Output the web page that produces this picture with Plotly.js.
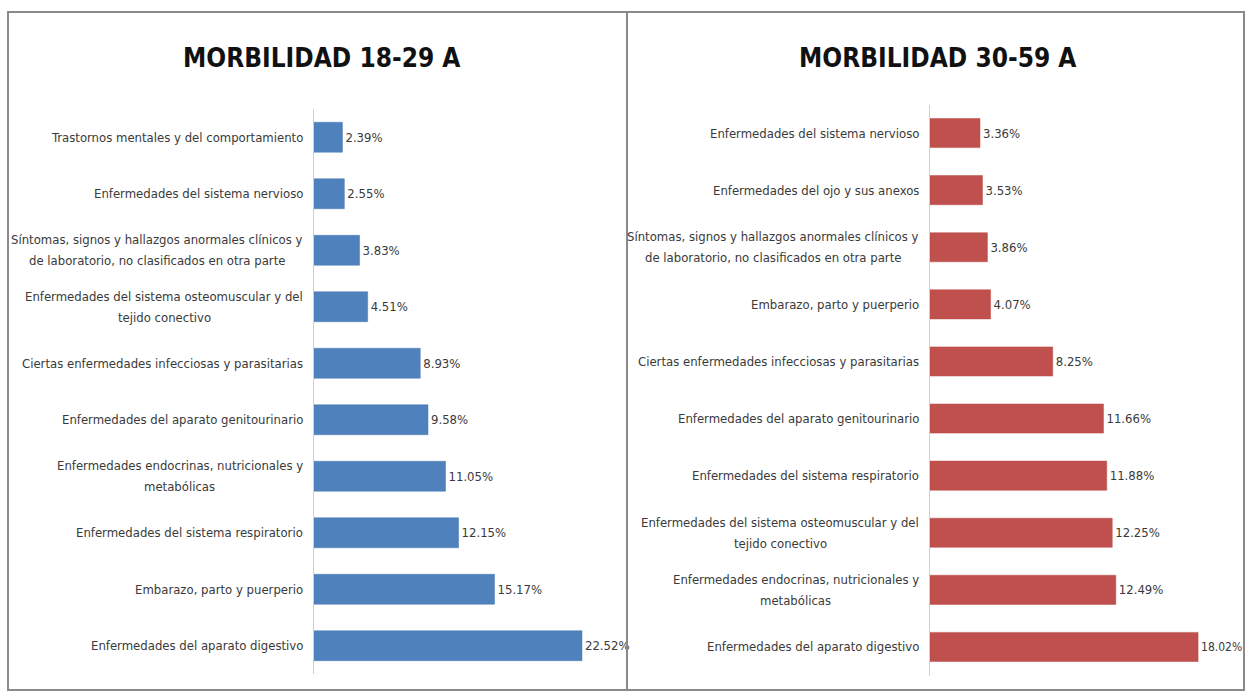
<!DOCTYPE html>
<html>
<head>
<meta charset="utf-8">
<script src="https://cdn.plot.ly/plotly-3.0.1.min.js"></script>
<style>html,body{margin:0;padding:0;background:#fff;}#chart{width:1245px;height:692px;}</style>
</head>
<body>
<div id="chart"></div>
<script>
// Left chart: MORBILIDAD 18-29 A (top to bottom)
const catsA = [
  "Trastornos mentales y del comportamiento",
  "Enfermedades del sistema nervioso",
  "Síntomas, signos y hallazgos anormales clínicos y<br>de laboratorio, no clasificados en otra parte",
  "Enfermedades del sistema osteomuscular y del<br>tejido conectivo",
  "Ciertas enfermedades infecciosas y parasitarias",
  "Enfermedades del aparato genitourinario",
  "Enfermedades endocrinas, nutricionales y<br>metabólicas",
  "Enfermedades del sistema respiratorio",
  "Embarazo, parto y puerperio",
  "Enfermedades del aparato digestivo"
];
const valsA = [2.39, 2.55, 3.83, 4.51, 8.93, 9.58, 11.05, 12.15, 15.17, 22.52];

// Right chart: MORBILIDAD 30-59 A (top to bottom)
const catsB = [
  "Enfermedades del sistema nervioso",
  "Enfermedades del ojo y sus anexos",
  "Síntomas, signos y hallazgos anormales clínicos y<br>de laboratorio, no clasificados en otra parte",
  "Embarazo, parto y puerperio",
  "Ciertas enfermedades infecciosas y parasitarias",
  "Enfermedades del aparato genitourinario",
  "Enfermedades del sistema respiratorio",
  "Enfermedades del sistema osteomuscular y del<br>tejido conectivo",
  "Enfermedades endocrinas, nutricionales y<br>metabólicas",
  "Enfermedades del aparato digestivo"
];
const valsB = [3.36, 3.53, 3.86, 4.07, 8.25, 11.66, 11.88, 12.25, 12.49, 18.02];

const titleA = "MORBILIDAD 18-29 A";
const titleB = "MORBILIDAD 30-59 A";

const W = 1245, H = 692;
const px = v => v / W;
const py = v => 1 - v / H;
const FONT = "'DejaVu Sans Condensed', 'Liberation Sans Narrow', sans-serif";
const TXT = "#3a3a3a";
const LBL_SIZE = 13;
const LINE_H = 21;

const fmt = v => v.toFixed(2) + "%";

const ctx = document.createElement("canvas").getContext("2d");
ctx.font = LBL_SIZE + "px 'DejaVu Sans Condensed'";
const measure = s => ctx.measureText(s).width;

const traceA = {
  type: "bar", orientation: "h",
  x: valsA, y: catsA.map((c, i) => "a" + i),
  marker: {color: "#4F81BD", line: {color: "#4A7AB5", width: 0.5}},
  text: valsA.map(fmt), textposition: "outside", cliponaxis: false,
  textfont: {family: FONT, size: 13, color: TXT},
  xaxis: "x", yaxis: "y", hoverinfo: "none", width: 0.53
};
const traceB = {
  type: "bar", orientation: "h",
  x: valsB, y: catsB.map((c, i) => "b" + i),
  marker: {color: "#C0504D", line: {color: "#B84A47", width: 0.5}},
  text: valsB.map(fmt), textposition: "outside", cliponaxis: false,
  textfont: {family: FONT, size: valsB.map((v, i) => i === valsB.length - 1 ? 12 : 13), color: TXT},
  xaxis: "x2", yaxis: "y2", hoverinfo: "none", width: 0.51
};

const annotations = [];
function addLabels(cats, yref, axisPx, prefix) {
  cats.forEach((c, i) => {
    const lines = c.split("<br>");
    const maxW = Math.max(...lines.map(measure));
    const n = lines.length;
    lines.forEach((ln, k) => annotations.push({
      xref: "paper", yref: yref, x: px(axisPx - 11 - maxW / 2), y: prefix + i,
      xanchor: "center", yanchor: "middle", yshift: ((n - 1) / 2 - k) * LINE_H,
      text: ln, showarrow: false, font: {family: FONT, size: LBL_SIZE, color: TXT}
    }));
  });
}
addLabels(catsA, "y", 314, "a");
addLabels(catsB, "y2", 930, "b");

annotations.push({xref: "paper", yref: "paper", x: px(321), y: py(58), text: "<b>" + titleA + "</b>",
  showarrow: false, xanchor: "center", yanchor: "middle", font: {family: FONT, size: 26, color: "#111"}});
annotations.push({xref: "paper", yref: "paper", x: px(937), y: py(58), text: "<b>" + titleB + "</b>",
  showarrow: false, xanchor: "center", yanchor: "middle", font: {family: FONT, size: 26, color: "#111"}});

const layout = {
  width: W, height: H,
  margin: {l: 0, r: 0, t: 0, b: 0},
  paper_bgcolor: "#fff", plot_bgcolor: "rgba(0,0,0,0)",
  showlegend: false,
  xaxis: {domain: [px(314), px(611.5)], range: [0, 25], visible: false, fixedrange: true},
  yaxis: {domain: [py(674), py(109)], autorange: "reversed", type: "category",
          showticklabels: false, ticks: "", showgrid: false, zeroline: false,
          showline: true, linecolor: "#d0d0d0", linewidth: 1, anchor: "x"},
  xaxis2: {domain: [px(930), px(1232)], range: [0, 20.3], visible: false, fixedrange: true},
  yaxis2: {domain: [py(675.5), py(104.5)], autorange: "reversed", type: "category",
          showticklabels: false, ticks: "", showgrid: false, zeroline: false,
          showline: true, linecolor: "#d0d0d0", linewidth: 1, anchor: "x2"},
  annotations: annotations,
  shapes: [
    {type: "rect", xref: "paper", yref: "paper", x0: px(8), x1: px(627), y0: py(690), y1: py(12),
     line: {color: "#8a8a8a", width: 2}},
    {type: "rect", xref: "paper", yref: "paper", x0: px(627), x1: px(1244), y0: py(690), y1: py(12),
     line: {color: "#8a8a8a", width: 2}}
  ]
};

Plotly.newPlot("chart", [traceA, traceB], layout, {displayModeBar: false, staticPlot: true});
</script>
</body>
</html>
